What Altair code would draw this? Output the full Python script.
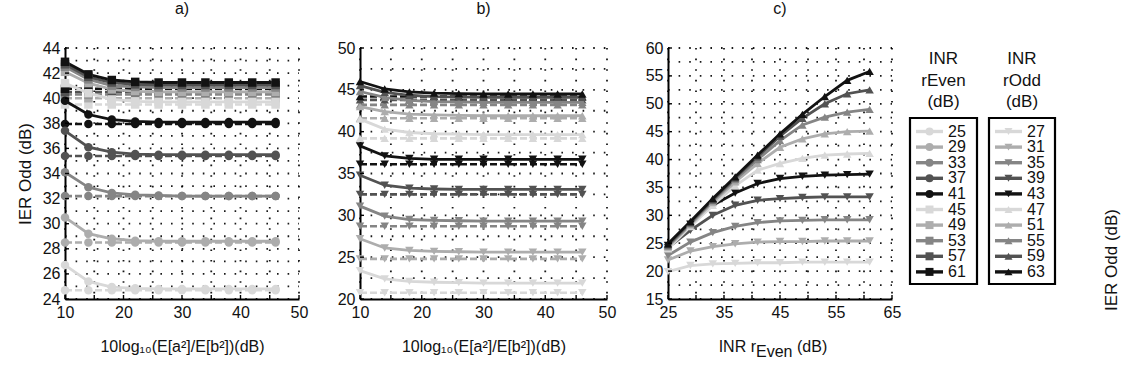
import altair as alt
import pandas as pd

FONT = "Liberation Sans"
FS = 16

# ---------------------------------------------------------------- data
ratio_db = [10, 14, 18, 22, 26, 30, 34, 38, 42, 46]      # 10log10(E[a^2]/E[b^2]) sample points
inr_even_db = [25, 29, 33, 37, 41, 45, 49, 53, 57, 61]   # INR of the even branch
inr_odd_db = [27, 31, 35, 39, 43, 47, 51, 55, 59, 63]    # INR of the odd branch

grey_levels = ["#d8d8d8", "#adadad", "#858585", "#525252", "#121212"] * 2
even_shapes = ["circle"] * 5 + ["square"] * 5
odd_shapes = ["triangle-down"] * 5 + ["triangle-up"] * 5

# a) IER odd vs power ratio, one row per INR rEven (simulation)
ier_a_sim = [
    [26.7, 25.4, 24.95, 24.85, 24.8, 24.8, 24.8, 24.8, 24.8, 24.8],
    [30.5, 29.2, 28.8, 28.65, 28.6, 28.6, 28.6, 28.6, 28.6, 28.6],
    [34.1, 32.9, 32.45, 32.3, 32.25, 32.2, 32.2, 32.2, 32.2, 32.2],
    [37.4, 36.1, 35.7, 35.55, 35.5, 35.5, 35.5, 35.5, 35.5, 35.5],
    [39.8, 38.7, 38.3, 38.15, 38.1, 38.1, 38.1, 38.1, 38.1, 38.1],
    [41.2, 40.4, 39.9, 39.75, 39.7, 39.7, 39.7, 39.7, 39.7, 39.7],
    [42.1, 41.2, 40.7, 40.55, 40.5, 40.5, 40.5, 40.5, 40.5, 40.5],
    [42.5, 41.5, 41.0, 40.9, 40.85, 40.85, 40.85, 40.85, 40.85, 40.85],
    [42.7, 41.7, 41.25, 41.1, 41.05, 41.05, 41.05, 41.05, 41.05, 41.05],
    [42.9, 41.9, 41.45, 41.3, 41.25, 41.25, 41.25, 41.25, 41.25, 41.25],
]
# a) limiting IER odd, one value per INR rEven
ier_a_limit = [24.7, 28.5, 32.2, 35.4, 37.95, 39.5, 40.0, 40.3, 40.5, 40.75]

# b) IER odd vs power ratio, one row per INR rOdd (simulation)
ier_b_sim = [
    [23.4, 22.4, 22.1, 22.0, 21.95, 21.9, 21.9, 21.9, 21.9, 21.9],
    [27.2, 26.1, 25.8, 25.7, 25.65, 25.6, 25.6, 25.6, 25.6, 25.6],
    [31.1, 29.9, 29.5, 29.4, 29.35, 29.3, 29.3, 29.3, 29.3, 29.3],
    [34.8, 33.6, 33.25, 33.15, 33.1, 33.1, 33.1, 33.1, 33.1, 33.1],
    [38.3, 37.1, 36.8, 36.7, 36.7, 36.7, 36.7, 36.7, 36.7, 36.7],
    [41.5, 40.3, 39.9, 39.75, 39.7, 39.65, 39.65, 39.65, 39.65, 39.65],
    [43.0, 42.4, 42.1, 42.0, 41.95, 41.9, 41.9, 41.9, 41.9, 41.9],
    [44.8, 44.1, 43.75, 43.6, 43.55, 43.5, 43.5, 43.5, 43.5, 43.5],
    [45.5, 44.7, 44.35, 44.2, 44.15, 44.1, 44.1, 44.1, 44.1, 44.1],
    [46.0, 45.1, 44.75, 44.6, 44.55, 44.5, 44.5, 44.5, 44.5, 44.5],
]
# b) limiting IER odd, one value per INR rOdd
ier_b_limit = [20.75, 24.8, 28.7, 32.5, 36.1, 39.2, 41.6, 43.2, 43.8, 44.2]

# c) IER odd vs INR rEven, one row per INR rOdd
ier_c = [
    [19.9, 21.0, 21.3, 21.4, 21.5, 21.5, 21.6, 21.6, 21.6, 21.6],
    [22.0, 23.6, 24.4, 24.9, 25.2, 25.3, 25.3, 25.4, 25.4, 25.4],
    [22.8, 25.2, 26.9, 28.0, 28.7, 29.0, 29.1, 29.2, 29.2, 29.2],
    [24.2, 27.3, 30.0, 31.8, 32.7, 33.0, 33.2, 33.3, 33.3, 33.3],
    [24.6, 28.4, 31.8, 34.0, 35.7, 36.6, 37.0, 37.2, 37.3, 37.4],
    [24.0, 28.0, 31.8, 35.3, 38.1, 39.3, 40.2, 40.8, 41.0, 41.1],
    [24.3, 28.3, 32.3, 36.0, 39.3, 42.2, 43.7, 44.6, 45.0, 45.1],
    [24.5, 28.5, 32.6, 36.4, 40.0, 43.4, 46.2, 47.6, 48.5, 49.0],
    [24.7, 28.7, 32.8, 36.7, 40.5, 44.2, 47.4, 50.0, 51.8, 52.5],
    [24.9, 28.9, 33.0, 36.9, 40.8, 44.6, 48.1, 51.3, 54.2, 55.8],
]

# axis tick labels of each panel
a_xlabels = [10, 20, 30, 40, 50]
a_ylabels = [24, 26, 28, 30, 32, 34, 36, 38, 40, 42, 44]
b_xlabels = [10, 20, 30, 40, 50]
b_ylabels = [20, 25, 30, 35, 40, 45, 50]
c_xlabels = [25, 35, 45, 55, 65]
c_ylabels = [15, 20, 25, 30, 35, 40, 45, 50, 55, 60]

# ---------------------------------------------------------------- layout
H = 251
W_A, W_B, W_C = 234, 247, 224
GAP = 61
LEG_X0 = 62 + W_A + GAP + W_B + GAP + W_C + GAP   # page x where the legend column starts
LEG_W = 1130 - LEG_X0
PLOT_TOP, PLOT_BOTTOM = 46, 46 + H

even_labels = [str(v) for v in inr_even_db]
odd_labels = [str(v) for v in inr_odd_db]
all_labels = even_labels + odd_labels

# one colour / shape mapping shared by every panel and the legend
COLOR = alt.Color("series:N", scale=alt.Scale(domain=all_labels, range=grey_levels * 2),
                  legend=None)
SHAPE = alt.Shape("series:N", scale=alt.Scale(domain=all_labels,
                                              range=even_shapes + odd_shapes), legend=None)
NO_VIEW = alt.ViewBackground(stroke="transparent", strokeWidth=0, fill="transparent")


def long_table(labels, rows, xs):
    recs = []
    for lab, row in zip(labels, rows):
        for x, y in zip(xs, row):
            recs.append({"series": lab, "x": x, "y": y})
    return pd.DataFrame(recs)


def frange(a, b, step):
    out, v = [], a
    while v <= b + 1e-9:
        out.append(round(v, 3))
        v += step
    return out


def panel(width, sim, flat, xdom, ydom, xstep, ystep, xlabels, ylabels,
          title, xtitle, ytitle):
    common = dict(grid=False, tickSize=0, domainColor="black", domainWidth=2,
                  labelFontSize=FS, labelFont=FONT, labelColor="#111",
                  labelFlush=False, labelOverlap=False, labelPadding=5,
                  titleFontWeight="normal", titleFont=FONT, titleColor="#111")
    xaxis = alt.Axis(values=xlabels, title=xtitle if xtitle else None,
                     titleFontSize=FS, titlePadding=18, **common)
    yaxis = alt.Axis(values=ylabels, title=ytitle if ytitle else None,
                     titleFontSize=FS + 1, titlePadding=8, **common)
    xenc = alt.X("x:Q", scale=alt.Scale(domain=xdom, nice=False, zero=False), axis=xaxis)
    yenc = alt.Y("y:Q", scale=alt.Scale(domain=ydom, nice=False, zero=False), axis=yaxis)

    xgrid = pd.DataFrame({"x": frange(xdom[0], xdom[1], xstep)})
    ygrid = pd.DataFrame({"y": frange(ydom[0], ydom[1], ystep)})
    dots = dict(color="black", strokeDash=[1.6, 9], strokeWidth=1.8, opacity=0.9)
    ticks = dict(color="black", strokeWidth=1.4)

    layers = [
        # dotted grid
        alt.Chart(xgrid).mark_rule(**dots).encode(x=xenc, y=alt.value(0), y2=alt.value(H)),
        alt.Chart(ygrid).mark_rule(**dots).encode(y=yenc, x=alt.value(0),
                                                  x2=alt.value(width)),
    ]
    if flat is not None:
        fb = alt.Chart(flat).encode(x=xenc, y=yenc, color=COLOR, detail="series:N")
        layers.append(fb.mark_line(strokeWidth=2.6, strokeDash=[7, 3]))
        layers.append(fb.mark_point(filled=True, size=72, opacity=1).encode(shape=SHAPE))
    sb = alt.Chart(sim).encode(x=xenc, y=yenc, color=COLOR, detail="series:N")
    layers.append(sb.mark_line(strokeWidth=2.8))
    layers.append(sb.mark_point(filled=True, size=72, opacity=1).encode(shape=SHAPE))

    # inward tick marks
    layers.append(alt.Chart(xgrid).mark_rule(**ticks).encode(
        x=xenc, y=alt.value(H), y2=alt.value(H - 4)))
    layers.append(alt.Chart(pd.DataFrame({"y": ylabels})).mark_rule(**ticks).encode(
        y=yenc, x=alt.value(0), x2=alt.value(4)))

    return alt.layer(*layers).properties(
        width=width, height=H, view=NO_VIEW,
        title=alt.TitleParams(title, fontSize=FS, font=FONT, fontWeight="normal",
                              color="#111", offset=23))


df_a = long_table(even_labels, ier_a_sim, ratio_db)
df_a_flat = long_table(even_labels, [[v] * len(ratio_db) for v in ier_a_limit], ratio_db)
df_b = long_table(odd_labels, ier_b_sim, ratio_db)
df_b_flat = long_table(odd_labels, [[v] * len(ratio_db) for v in ier_b_limit], ratio_db)
df_c = long_table(odd_labels, ier_c, inr_even_db)

ratio_title = "10log\u2081\u2080(E[a\u00b2]/E[b\u00b2])(dB)"

chart_a = panel(W_A, df_a, df_a_flat, [10, 50], [24, 44], 5, 1, a_xlabels, a_ylabels,
                "a)", ratio_title, "IER Odd (dB)")
chart_b = panel(W_B, df_b, df_b_flat, [10, 50], [20, 50], 5, 2.5, b_xlabels, b_ylabels,
                "b)", ratio_title, None)
chart_c = panel(W_C, df_c, None, [25, 65], [15, 60], 5, 2.5, c_xlabels, c_ylabels,
                "c)", None, None)

# x title of panel c with the lowered "Even"
c_title_y = H + 48
c_xtitle = alt.layer(
    alt.Chart(pd.DataFrame({"t": ["INR r"]})).mark_text(
        align="right", baseline="middle", fontSize=FS, font=FONT, color="#111").encode(
        text="t:N", x=alt.value(88), y=alt.value(c_title_y)),
    alt.Chart(pd.DataFrame({"t": ["Even"]})).mark_text(
        align="left", baseline="middle", fontSize=FS, font=FONT, color="#111").encode(
        text="t:N", x=alt.value(88), y=alt.value(c_title_y + 5)),
    alt.Chart(pd.DataFrame({"t": ["(dB)"]})).mark_text(
        align="left", baseline="middle", fontSize=FS, font=FONT, color="#111").encode(
        text="t:N", x=alt.value(129), y=alt.value(c_title_y)),
)
chart_c = alt.layer(chart_c, c_xtitle).properties(width=W_C, height=H, view=NO_VIEW)

# ---------------------------------------------------------------- legend column
box_left = [907, 986]
box_right = [974, 1052]
box_top, box_bottom = 116, 282
row0, row_step = 129.5, 15.6
group_titles = ["rEven", "rOdd"]

leg_rows = []
for g, labs in enumerate([even_labels, odd_labels]):
    for i, lab in enumerate(labs):
        leg_rows.append({
            "series": lab,
            "x1": box_left[g] + 6, "x2": box_left[g] + 33,
            "xm": box_left[g] + 19.5, "xt": box_left[g] + 38,
            "y": row0 + row_step * i,
        })
leg = pd.DataFrame(leg_rows)
frames = pd.DataFrame({"x1": box_left, "x2": box_right,
                       "y1": [box_top] * 2, "y2": [box_bottom] * 2})
heads = pd.DataFrame([
    {"x": (box_left[g] + box_right[g]) / 2, "y": yy, "t": txt}
    for g in range(2)
    for yy, txt in zip([56.7, 78.5, 100.3], ["INR", group_titles[g], "(dB)"])
])

lx = alt.Scale(domain=[LEG_X0, LEG_X0 + LEG_W], nice=False, zero=False)
ly = alt.Scale(domain=[PLOT_TOP, PLOT_BOTTOM], nice=False, zero=False, reverse=True)
LX = lambda f: alt.X(f, scale=lx, axis=None)
LY = lambda f: alt.Y(f, scale=ly, axis=None)

legend = alt.layer(
    alt.Chart(frames).mark_rect(fill="transparent", stroke="black", strokeWidth=2.2).encode(
        x=LX("x1:Q"), x2="x2:Q", y=LY("y1:Q"), y2="y2:Q"),
    alt.Chart(leg).mark_rule(strokeWidth=3.4).encode(
        x=LX("x1:Q"), x2="x2:Q", y=LY("y:Q"), color=COLOR),
    alt.Chart(leg).mark_point(filled=True, size=64, opacity=1).encode(
        x=LX("xm:Q"), y=LY("y:Q"), color=COLOR, shape=SHAPE),
    alt.Chart(leg).mark_text(align="left", baseline="middle", fontSize=FS, font=FONT,
                             color="#111").encode(
        x=LX("xt:Q"), y=LY("y:Q"), text="series:N"),
    alt.Chart(heads).mark_text(align="center", baseline="middle", fontSize=FS + 1,
                               font=FONT, color="#111").encode(
        x=LX("x:Q"), y=LY("y:Q"), text="t:N"),
    alt.Chart(pd.DataFrame({"x": [1109], "y": [258], "t": ["IER Odd (dB)"]})).mark_text(
        align="center", baseline="middle", angle=270, fontSize=FS + 1, font=FONT,
        color="#111").encode(
        x=LX("x:Q"), y=LY("y:Q"), text="t:N"),
).properties(width=LEG_W, height=H, view=NO_VIEW)

chart = alt.hconcat(chart_a, chart_b, chart_c, legend, spacing=GAP, bounds="flush").properties(
    padding={"left": 16, "top": 1, "right": 0, "bottom": 0}
).configure_view(stroke="transparent", strokeWidth=0).configure(font=FONT, background="white")

chart.save("out.html", embed_options={"renderer": "svg", "actions": False})
